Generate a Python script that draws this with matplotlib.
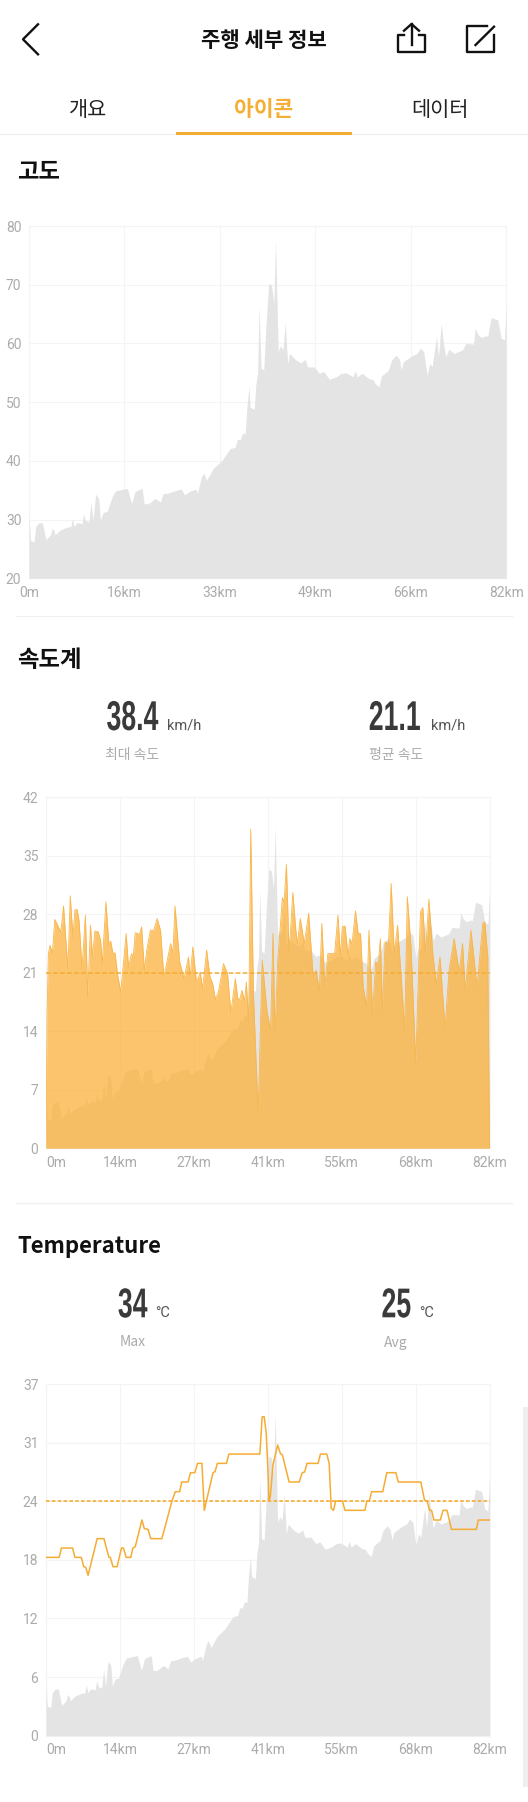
import matplotlib
matplotlib.use("Agg")
import matplotlib.pyplot as plt
from matplotlib.patches import Rectangle
from matplotlib.lines import Line2D
from matplotlib.patheffects import AbstractPathEffect
from matplotlib.transforms import Affine2D

W, H = 528, 1802
KR = ["Noto Sans CJK KR", "DejaVu Sans"]
plt.rcParams["font.family"] = KR

ORANGE = "#F5AC32"
GREY_FILL = "#E4E4E4"
GRID = "#F4F4F4"
TICK = "#ABABAB"

# elevation
elev_km = [0, .23, .87, 1.16, 1.74, 2.31, 2.89, 3.7, 3.99, 4.28, 4.46, 5.32, 6.48, 7.18, 7.47, 7.75, 8.22, 9.09,
           9.37, 9.66, 10.3, 10.65, 11.0, 11.46, 11.98, 12.27, 12.73, 13.43, 14.29, 14.87, 16.9, 17.65, 18.23,
           19.44, 19.79, 20.37, 20.95, 21.64, 22.57, 23.03, 23.84, 25.0, 26.16, 26.74, 27.6, 28.65, 28.94, 29.63,
           30.03, 30.5, 31.65, 33.1, 34.55, 35.42, 35.82, 36.28, 36.69, 37.15, 37.44, 37.79, 38.02, 38.71, 39.0,
           39.29, 39.53, 39.87, 40.34, 40.74, 41.2, 41.67, 42.07, 42.36, 42.82, 43.23, 43.63, 44.04, 44.44, 44.79,
           45.83, 46.7, 47.45, 47.86, 49.02, 49.88, 50.64, 51.62, 52.78, 53.65, 54.51, 55.67, 56.08, 56.42, 57.23,
           58.28, 59.14, 59.43, 60.13, 60.59, 61.75, 62.33, 63.08, 63.66, 63.95, 64.35, 65.8, 66.67, 67.25, 67.82,
           68.4, 68.87, 69.27, 70.02, 70.37, 70.83, 71.18, 71.59, 72.16, 73.03, 74.48, 75.06, 76.39, 76.68, 77.08,
           77.66, 78.53, 78.82, 79.4, 80.55, 81.13, 81.71, 82]
elev_m = [30.8, 26.5, 26.2, 28.8, 29.5, 29.4, 26.6, 27.4, 28.5, 28.2, 27.4, 28.2, 28.7, 28.8, 30.2, 28.8, 29.5, 29.3,
          31, 29.9, 29.6, 32.9, 29.9, 34.3, 33.6, 29.9, 31.2, 31.4, 33.9, 34.9, 35.3, 32.7, 34.8,
          35.3, 32.7, 32.7, 33, 33.6, 33, 34.4, 34.5, 34.9, 35.2, 34.2, 34.8, 35.2, 34.5, 37.3,
          37.9, 36.7, 38.7, 40, 42.1, 42.3, 43.7, 43.6, 44.7, 44.6, 49.2, 52.6, 49.1, 48.8, 53.2,
          54.9, 66.5, 55.8, 55.5, 63.4, 70.2, 69.9, 66.8, 77.6, 58.6, 59.6, 58.9, 63.5, 56.6, 58.3,
          57.2, 56.7, 57.3, 56, 56, 54.9, 55.2, 53.9, 54.3, 54.9, 55, 54.3, 55.3, 54.3, 54.9,
          54.1, 53.8, 53.2, 52.6, 54.5, 55.4, 57.2, 58, 57.3, 55.5, 56.9, 57.9, 58.3, 59.2, 58.6,
          54.6, 56.6, 56, 61.2, 57.7, 63.4, 60.3, 57.7, 59, 58.3, 58.9, 60, 59.9, 62.6, 61.6,
          61, 61.3, 61.2, 64.4, 64, 60.9, 60.6, 66.5]

speed_km = [0, .19, .44, .75, 1.18, 1.62, 2.3, 2.74, 3.24, 3.67, 4.05, 4.48, 4.98, 5.35, 5.73, 6.1, 6.66, 7.28, 7.72,
            8.22, 8.59, 9.03, 9.65, 10.09, 10.4, 11.08, 11.64, 11.95, 12.39, 12.76, 13.2, 13.82, 14.82, 15.25, 15.81,
            16.13, 16.5, 17.25, 17.68, 18.18, 18.62, 19.3, 19.92, 20.55, 21.17, 21.79, 23.04, 23.47, 23.85, 24.72,
            25.53, 26.34, 26.65, 27.15, 27.77, 28.14, 28.51, 28.95, 29.7, 30.32, 30.82, 31.32, 31.88, 32.81, 33.56,
            34.18, 34.99, 35.49, 35.8, 36.24, 36.73, 37.04, 37.48, 37.85, 38.35, 39.22, 39.97, 40.9, 41.53, 41.96,
            42.34, 42.83, 43.71, 44.02, 44.45, 44.95, 45.64, 46.2, 46.51, 47.01, 47.75, 48.56, 49.43, 49.93, 50.55,
            50.99, 51.55, 52.11, 52.73, 53.36, 53.98, 54.41, 54.79, 55.29, 55.85, 56.16, 56.59, 57.22, 57.71, 58.15,
            58.65, 59.27, 59.71, 60.39, 60.95, 61.45, 61.82, 62.2, 62.7, 63.32, 63.82, 64.38, 65, 65.81, 66.31, 66.8,
            67.49, 68.36, 69.23, 69.67, 70.17, 70.79, 71.54, 72.16, 72.84, 73.78, 74.52, 75.46, 76.39, 77.01, 77.51,
            78.57, 79.69, 80.75, 81.13, 81.68, 82]
speed_kmh = [0, 16, 23.3, 24.3, 23.3, 27.4, 26.5, 25.9, 29, 24.9, 21.5, 30.2, 25.3, 28.5, 28.6, 27.3, 21.5, 27.9, 18.2,
             26.7, 22.9, 26, 25.9, 24.9, 22.1, 29.5, 24.3, 24.8, 23.3, 23.4, 20.9, 18.7, 25.7, 21.7, 23.3,
             22.9, 25.8, 25.6, 26.5, 21.3, 23.7, 26.1, 26.1, 27.5, 26.1, 20.5, 24.5, 23.4, 29, 22.3,
             20.3, 22.9, 20.5, 24.1, 20.2, 20.3, 21.1, 19.1, 23.7, 20.5, 19.7, 17.8, 18.7, 22.1, 20.9,
             16.2, 20.3, 17.8, 17.8, 18.9, 17.6, 19.9, 15, 38.2, 18.5, 4.2, 22.5, 16.2, 14.2, 25.7,
             13.8, 22.3, 30, 29.4, 34, 23.3, 30.6, 26, 24.5, 27.5, 24.5, 28.1, 20.3, 21.3, 18.9,
             26.9, 19.3, 23.3, 23.3, 23.3, 27.9, 23, 26.5, 26.6, 23, 25.1, 24.5, 28.4, 25.7, 25.7,
             19.3, 17, 26.1, 16.2, 22.3, 22.1, 25.1, 16.6, 24.7, 24.5, 31.7, 23.3, 26.7, 19.1, 14.2, 30.1,
             24.1, 10.2, 28.3, 28.8, 23.3, 29.8, 23.1, 19.7, 22.9, 14.4, 21.3, 25.1, 21.1, 24.5, 18.9,
             26.1, 19.3, 26.9, 27.1, 22.9, 0]
speed_avg = 21

temp_km = [0, 2.43, 2.86, 4.92, 5.35, 6.54, 6.97, 7.35, 7.78, 9.46, 10.71, 11.64, 11.89, 12.39, 13.14, 13.95, 14.32,
           14.82, 15.69, 16.06, 16.5, 17.74, 18.18, 18.86, 19.36, 21.42, 23.29, 23.91, 24.72, 25.09, 26.27, 26.71,
           27.52, 28.02, 28.83, 29.26, 30.88, 31.25, 31.69, 33.37, 33.81, 39.54, 39.97, 40.34, 40.72, 41.03, 41.22,
           41.47, 41.96, 42.83, 43.33, 43.71, 44.95, 46.82, 47.38, 47.82, 48.25, 50.31, 50.74, 51.92, 52.36, 52.73,
           53.17, 53.54, 54.79, 55.29, 58.96, 59.33, 59.77, 60.21, 62.26, 63.01, 64.69, 65.12, 69.3, 69.98, 70.48,
           70.91, 71.29, 71.72, 72.91, 73.4, 74.15, 74.96, 79.57, 79.94, 82]
temp_c = [18.76, 18.76, 19.74, 19.74, 18.76, 18.76, 17.78, 17.71, 16.87, 20.73, 20.73, 18.76, 18.76, 17.78, 17.78, 19.74, 19.74,
          18.76, 18.76, 19.74, 19.88, 22.69, 21.78, 21.71, 20.73, 20.73, 24.69, 25.67, 25.67, 26.69, 26.69, 27.67,
          27.67, 28.65, 28.65, 23.71, 27.67, 27.78, 28.65, 28.65, 29.63, 29.63, 33.56, 33.56, 31.81, 27.95, 24.72,
          25.14, 28.48, 30.58, 29.7, 29.53, 26.69, 26.69, 27.67, 27.74, 28.65, 28.65, 29.63, 29.63, 28.65, 23.92,
          23.71, 24.69, 24.69, 23.71, 23.71, 24.69, 24.69, 25.67, 25.67, 27.67, 27.67, 26.69, 26.69, 24.79, 24.69,
          23.71, 23.71, 22.69, 22.69, 23.71, 23.71, 21.71, 21.71, 22.69, 22.69]
temp_avg = 24.69

elev_ticks = [20, 30, 40, 50, 60, 70, 80]
speed_ticks = [0, 7, 14, 21, 28, 35, 42]
temp_ticks = [0, 37 / 6, 37 / 3, 37 / 2, 74 / 3, 185 / 6, 37]
temp_labels = ["0", "6", "12", "18", "24", "31", "37"]
x_labels_6 = ["0m", "16km", "33km", "49km", "66km", "82km"]
x_labels_7 = ["0m", "14km", "27km", "41km", "55km", "68km", "82km"]

fig = plt.figure(figsize=(W / 100, H / 100), dpi=100, facecolor="white")


def px_rect(left, top, right, bottom):
    return [left / W, 1 - bottom / H, (right - left) / W, (bottom - top) / H]


class Squeeze(AbstractPathEffect):
    # no condensed family is installed, so squeeze the glyphs towards the right end of the text
    def __init__(self, sx):
        super().__init__()
        self.sx = sx

    def draw_path(self, renderer, gc, tpath, affine, rgbFace=None):
        xmax = tpath.vertices[:, 0].max()
        squeeze = Affine2D().translate(-xmax, 0).scale(self.sx, 1).translate(xmax, 0)
        renderer.draw_path(gc, tpath, squeeze + affine, rgbFace)


# page layer in pixel coordinates for the app chrome
ui = fig.add_axes([0, 0, 1, 1], zorder=10)
ui.set_xlim(0, W)
ui.set_ylim(H, 0)
ui.axis("off")
ui.patch.set_visible(False)


def make_chart(rect, ylim, yticks, ylabels, xlabels, first_left=False):
    base = fig.add_axes(px_rect(*rect))
    base.set_xlim(0, 82)
    base.set_ylim(*ylim)
    base.set_yticks(yticks)
    base.set_yticklabels(ylabels)
    xt = [82 * i / (len(xlabels) - 1) for i in range(len(xlabels))]
    base.set_xticks(xt)
    base.set_xticklabels(xlabels)
    base.grid(color=GRID, lw=0.75)
    base.set_axisbelow(True)
    base.tick_params(length=0, colors=TICK, pad=5.5)
    base.tick_params(axis="x", pad=5.5)
    for lab in base.get_xticklabels() + base.get_yticklabels():
        lab.set_family(["Roboto", "DejaVu Sans"])
        lab.set_fontsize(10)
    if first_left:
        base.get_xticklabels()[0].set_ha("left")
    for s in base.spines.values():
        s.set_color(GRID)
        s.set_linewidth(0.75)
    return base


def overlay(rect, ylim):
    a = fig.add_axes(px_rect(*rect), frameon=False)
    a.set_xlim(0, 82)
    a.set_ylim(*ylim)
    a.axis("off")
    return a


# altitude
r1 = (29, 226, 506.2, 578.3)
ax1 = make_chart(r1, (20, 80), elev_ticks, [str(v) for v in elev_ticks], x_labels_6)
ax1.fill_between(elev_km, elev_m, 20, color=GREY_FILL, lw=0, zorder=3)

# speed, altitude is repeated behind on its own scale
r2 = (46, 797.3, 489.5, 1148.3)
ax2 = make_chart(r2, (0, 42), speed_ticks, [str(v) for v in speed_ticks], x_labels_7, first_left=True)
g2 = overlay(r2, (21.3, 82.8))
g2.fill_between(elev_km, elev_m, 21.3, color=GREY_FILL, lw=0)
s2 = overlay(r2, (0, 42))
s2.fill_between(speed_km, speed_kmh, 0, color="#FCAE33", alpha=0.72, lw=0)
s2.plot(speed_km, speed_kmh, color="#F8B64C", lw=0.6)
s2.axhline(speed_avg, color=ORANGE, lw=1.1, ls=(0, (3, 1.6)))

# temperature
r3 = (46, 1384, 489.5, 1735.7)
ax3 = make_chart(r3, (0, 37), temp_ticks, temp_labels, x_labels_7, first_left=True)
g3 = overlay(r3, (21.3, 82.8))
g3.fill_between(elev_km, elev_m, 21.3, color=GREY_FILL, lw=0)
s3 = overlay(r3, (0, 37))
s3.plot(temp_km, temp_c, color=ORANGE, lw=1.1)
s3.axhline(temp_avg, color=ORANGE, lw=1.2, ls=(0, (2.2, 1.3)))

# header
ui.plot([38, 23, 38], [24.3, 39.3, 54.3], color="#111111", lw=1.7)
ui.plot([404, 398, 398, 425, 425, 419], [35, 35, 52.3, 52.3, 35, 35], color="#111111", lw=1.7, solid_joinstyle="round")
ui.plot([411.5, 411.5], [45, 24], color="#111111", lw=1.7)
ui.plot([404, 411.5, 419], [30.7, 24, 30.7], color="#111111", lw=1.7)
ui.plot([487, 467, 467, 494, 494], [25.7, 25.7, 52.3, 52.3, 35], color="#111111", lw=1.7, solid_joinstyle="round")
ui.plot([475.5, 494], [45, 26.7], color="#111111", lw=1.7)
ui.text(264, 40.5, "주행 세부 정보", fontsize=15.2, fontweight="bold", color="#111111", ha="center", va="center")
ui.text(88, 109.6, "개요", fontsize=15, color="#222222", ha="center", va="center")
ui.text(264, 109.6, "아이콘", fontsize=15.5, fontweight="bold", color="#F5AE35", ha="center", va="center")
ui.text(440, 109.6, "데이터", fontsize=15, color="#222222", ha="center", va="center")
ui.add_line(Line2D([0, W], [134.3, 134.3], color="#EEEEEE", lw=0.9, zorder=1))
ui.add_patch(Rectangle((176, 132.3), 176, 2.8, color="#F0AC35", lw=0, zorder=2))

# section headings
ui.text(17.5, 171, "고도", fontsize=16.8, fontweight="bold", color="#111111", va="center")
ui.add_line(Line2D([16, 512], [615.5, 615.5], color="#F0F0F0", lw=0.9))
ui.text(17.5, 660, "속도계", fontsize=16.8, fontweight="bold", color="#111111", va="center")
ui.add_line(Line2D([16, 512], [1203.3, 1203.3], color="#F0F0F0", lw=0.9))
ui.text(17.5, 1246, "Temperature", fontsize=16, fontweight="bold", color="#111111", va="center")


def stat(right_x, base_y, value, unit_x, unit, label, label_x, label_y):
    t = ui.text(right_x, base_y, value, family="Liberation Sans", fontweight="bold", fontsize=30,
                color="#3A3A3A", va="baseline", ha="right")
    t.set_path_effects([Squeeze(0.64)])
    ui.text(unit_x, base_y, unit, family=["Roboto", "DejaVu Sans"], fontsize=10.5, color="#555555", va="baseline")
    ui.text(label_x, label_y, label, fontsize=10, color="#ABABAB", va="center")


stat(158.5, 730, "38.4", 167, "km/h", "최대 속도", 105, 755)
stat(421, 730, "21.1", 431, "km/h", "평균 속도", 368.7, 755)
stat(147.5, 1317.3, "34", 155.5, "°C", "Max", 119.5, 1342.5)
stat(411.5, 1317.3, "25", 419.5, "°C", "Avg", 384, 1342.5)

# scrollbar on the right edge
ui.add_patch(Rectangle((522.5, 1406.7), 5.5, 380, color="#EEEEEE", lw=0))

fig.savefig("out.png", dpi=100)
